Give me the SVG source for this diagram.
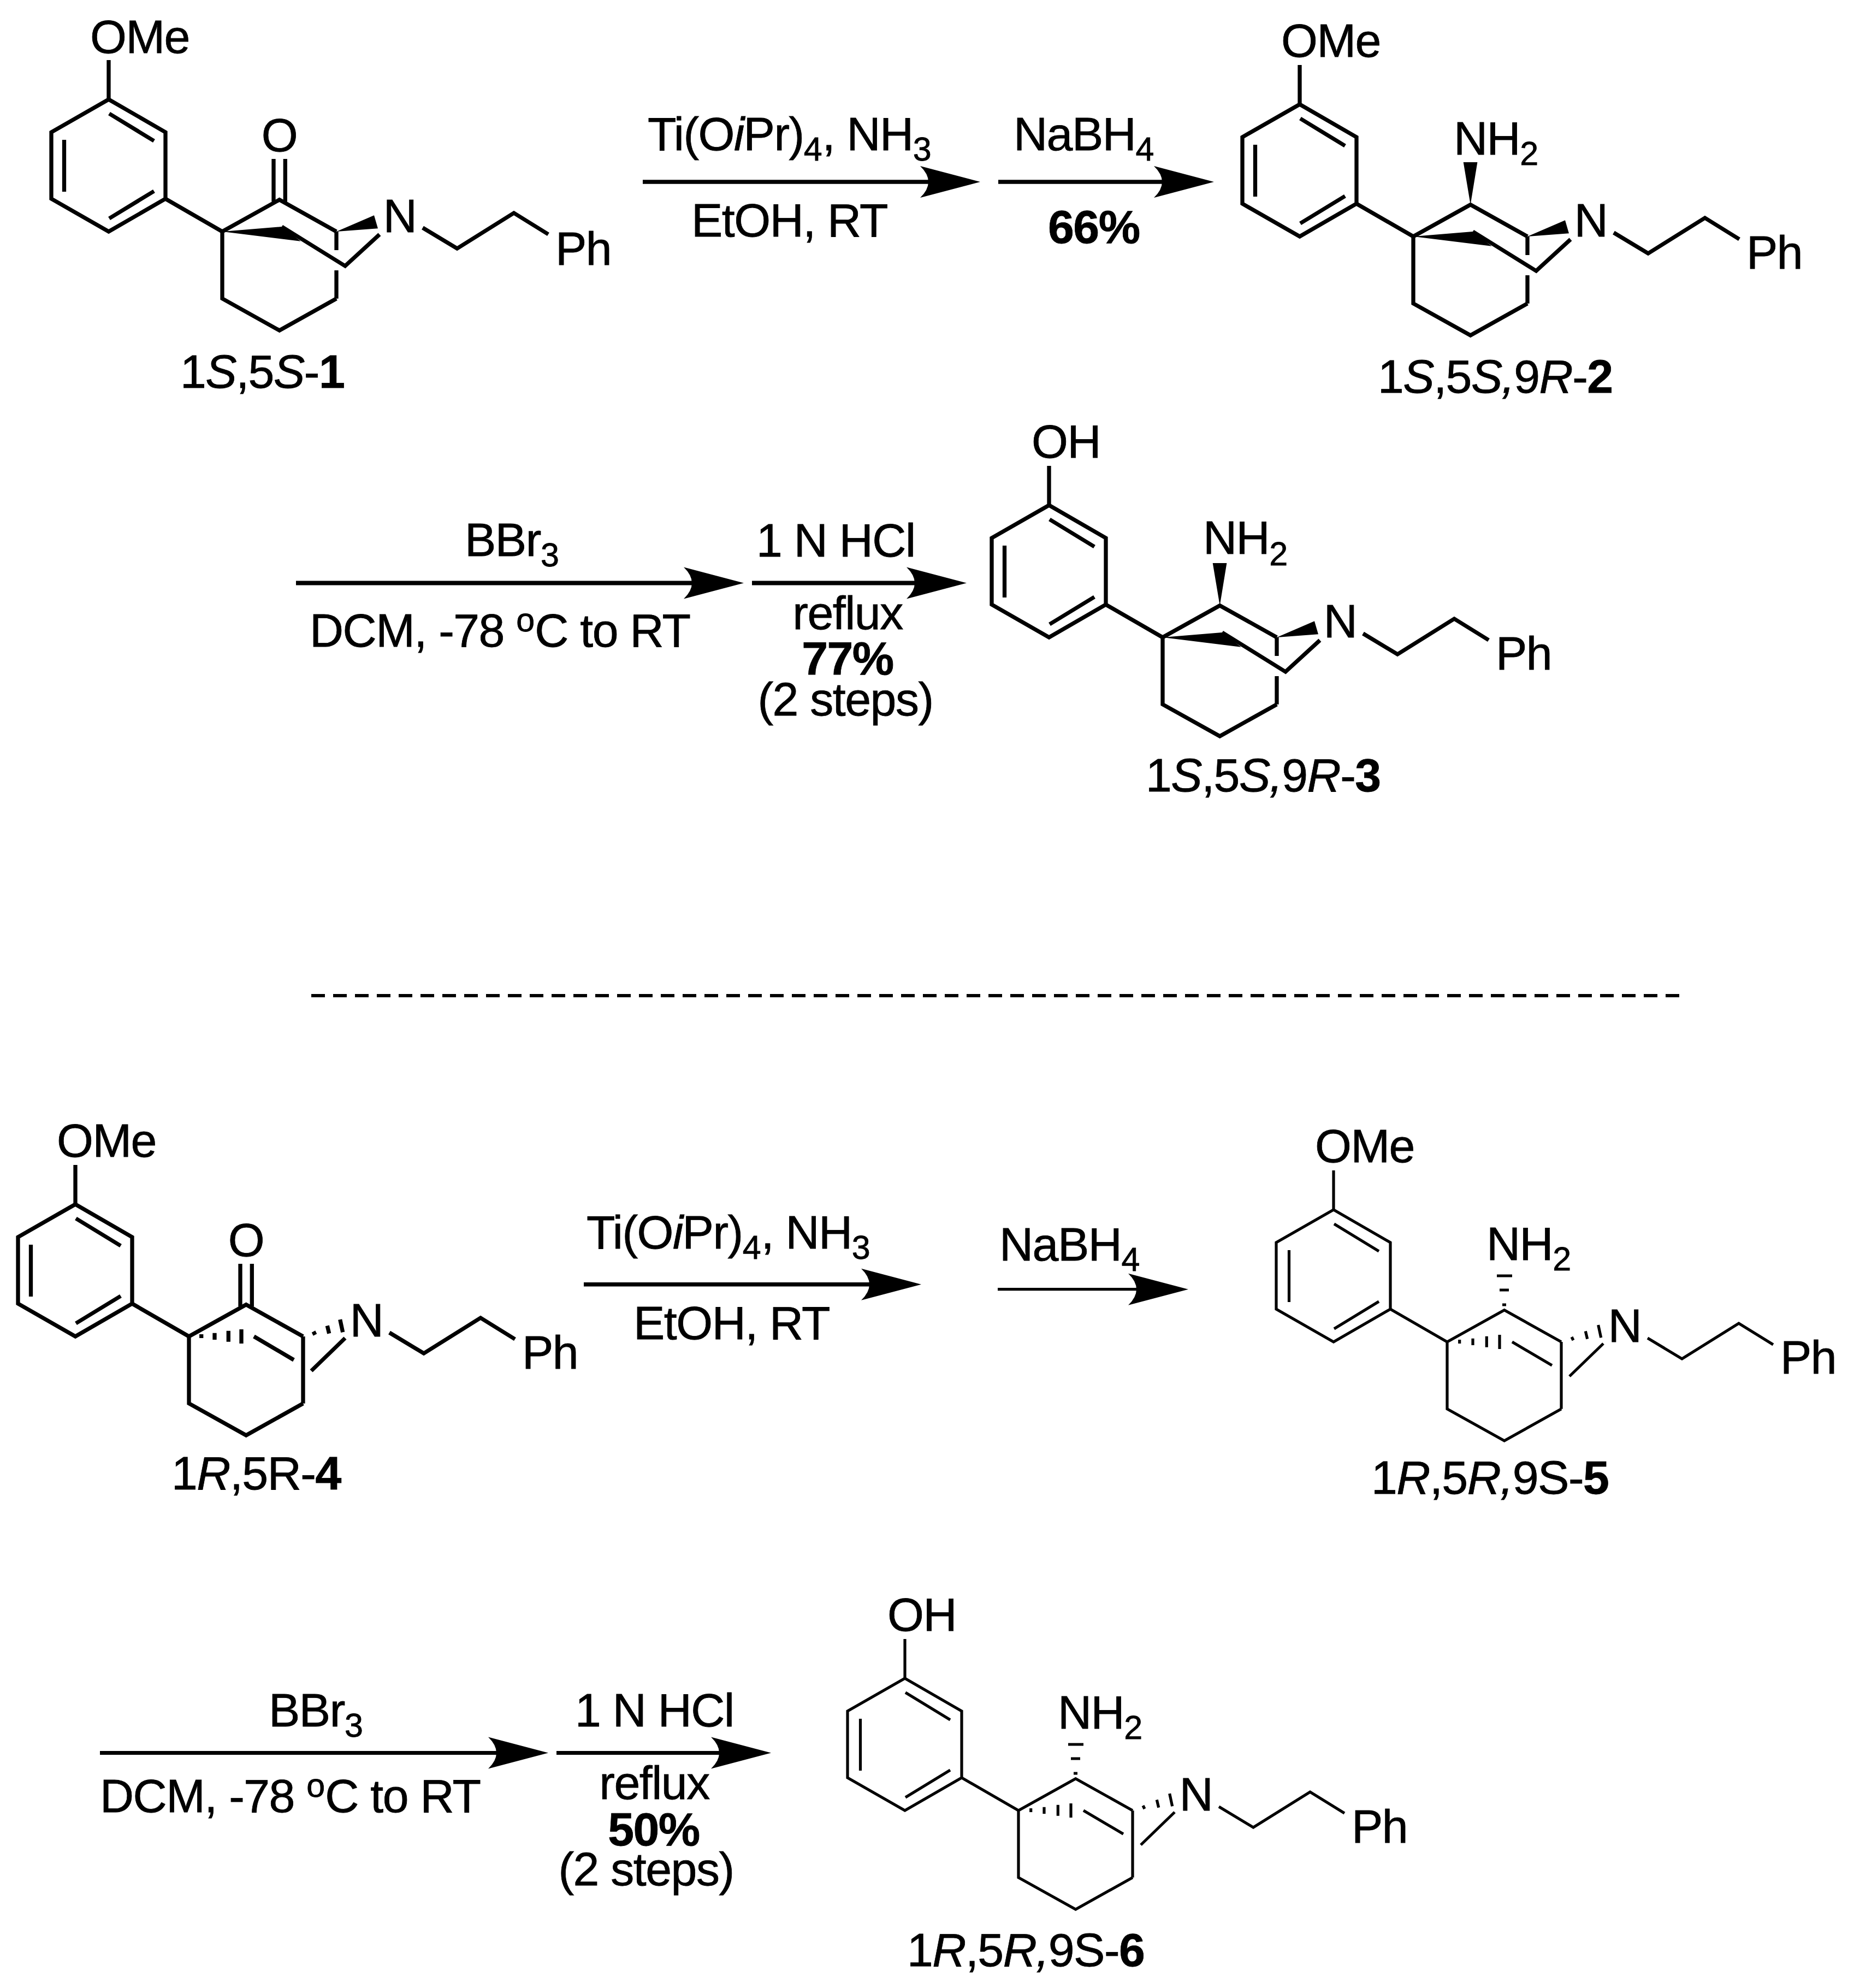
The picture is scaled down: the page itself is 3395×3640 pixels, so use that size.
<svg xmlns="http://www.w3.org/2000/svg" width="3395" height="3640" viewBox="0 0 3395 3640">
<style>
text{font-family:"Liberation Sans",Arial,sans-serif;font-size:86px;letter-spacing:-1.500px;fill:#000;stroke:#000;stroke-width:.8px}
.m{text-anchor:middle}
.s{font-size:61px;letter-spacing:0}
.i{font-style:italic}
.h{font-weight:bold}
.b{fill:none;stroke:#000;stroke-linejoin:miter;stroke-miterlimit:10}
.w{fill:#000;stroke:none}
.b7{stroke-width:7.300}
.b5{stroke-width:5.200}
.ar{fill:none;stroke:#000;marker-end:url(#ah)}
</style>
<defs>
<marker id="ah" markerUnits="userSpaceOnUse" viewBox="0 0 110 60" markerWidth="110" markerHeight="60" refX="20" refY="30" orient="auto"><path d="M110 30L0 1Q30 30 0 59Z" fill="#000"/></marker>
<g id="ring"><path d="M303 364V242L199 182L94 242V364L199 424L303 364Z"/><path d="M199 110V182M200 208L282 258M117.500 256V351M282 350L200 400M303 364L407 424"/></g>
<g id="cage"><path d="M616 424L511.700 365.700L407 424V546.700L511.700 605L616 546.700"/></g>
<path id="chain" d="M774 417L837 455L941 390L1004 429"/>
<g id="front"><path d="M616 424V458M616 495V546.700M516 415L632 487L695 429.300"/><polygon class="w" points="616,424 685,394.300 692,418.300"/><polygon class="w" points="407,424 516,415 550.700,441.700"/></g>
<g id="back"><path d="M616 424V546.700M526 424L599 467M693 427L631 487M429.700 420V427M454 417.700V430M479.300 413.700V433.700M503 411V437M635 415L638 421M660.300 404.300L663.700 418.700M683.700 393L688.700 416.300"/></g>
<path id="ketone" d="M501 291V369M522.300 291V369"/>
<polygon id="upw" class="w" points="511.700,365.700 498.700,288 524.400,288"/>
<path id="uph" d="M498 303H526M503 329H520M508 356H515"/>
</defs>

<g id="connectors">
<path class="ar b7" d="M1177 333H1705"/>
<path class="ar b7" d="M1828 333H2133"/>
<path class="ar" stroke-width="8" d="M542 1067.500H1272"/>
<path class="ar" stroke-width="8" d="M1377 1067.500H1680"/>
<path class="ar" stroke-width="7.500" d="M1069 2351.700H1597"/>
<path class="ar b5" d="M1827 2360.700H2086"/>
<path class="ar" stroke-width="7" d="M183 3209.600H914"/>
<path class="ar" stroke-width="7" d="M1019 3209.600H1322"/>
<path id="divider" fill="none" stroke="#000" stroke-width="6" stroke-dasharray="25 15" d="M570 1823H3085"/>
</g>

<g id="mol1">
<g class="b b7"><use href="#ring"/><use href="#cage"/><use href="#front"/><use href="#chain"/><use href="#ketone"/></g>
<text x="165" y="97">OMe</text><text class="m" x="511.500" y="277">O</text><text class="m" x="732" y="425">N</text><text x="1017" y="485">Ph</text>
<text x="330" y="710">1<tspan class="i">S</tspan>,5<tspan class="i">S</tspan>-<tspan class="h">1</tspan></text>
</g>

<g id="mol2" transform="translate(2181 9)">
<g class="b b7"><use href="#ring"/><use href="#cage"/><use href="#front"/><use href="#chain"/></g><use href="#upw"/>
<text x="165" y="95">OMe</text><text x="481" y="274">NH<tspan class="s" dy="19">2</tspan></text><text class="m" x="732" y="424">N</text><text x="1017" y="483">Ph</text>
<text x="342" y="710">1<tspan class="i">S</tspan>,5<tspan class="i">S,</tspan>9<tspan class="i">R</tspan>-<tspan class="h">2</tspan></text>
</g>

<g id="mol3" transform="translate(1722 743)">
<g class="b b7"><use href="#ring"/><use href="#cage"/><use href="#front"/><use href="#chain"/></g><use href="#upw"/>
<text x="167" y="95">OH</text><text x="481" y="271">NH<tspan class="s" dy="21">2</tspan></text><text class="m" x="732" y="424">N</text><text x="1017" y="483">Ph</text>
<text x="376" y="706">1<tspan class="i">S</tspan>,5<tspan class="i">S,</tspan>9<tspan class="i">R</tspan>-<tspan class="h">3</tspan></text>
</g>

<g id="mol4" transform="translate(-61 2023)">
<g class="b b7"><use href="#ring"/><use href="#cage"/><use href="#back"/><use href="#chain"/><use href="#ketone"/></g>
<text x="165" y="95">OMe</text><text class="m" x="511.500" y="277">O</text><text class="m" x="732" y="424">N</text><text x="1017" y="483">Ph</text>
<text x="375" y="704">1<tspan class="i">R</tspan>,5R-<tspan class="h">4</tspan></text>
</g>

<g id="mol5" transform="translate(2243 2033)">
<g class="b b5"><use href="#ring"/><use href="#cage"/><use href="#back"/><use href="#chain"/><use href="#uph"/></g>
<text x="165" y="95">OMe</text><text x="479" y="274">NH<tspan class="s" dy="19">2</tspan></text><text class="m" x="732" y="424">N</text><text x="1017" y="482">Ph</text>
<text x="268" y="702">1<tspan class="i">R</tspan>,5<tspan class="i">R,</tspan>9S-<tspan class="h">5</tspan></text>
</g>

<g id="mol6" transform="translate(1458 2891)">
<g class="b b5"><use href="#ring"/><use href="#cage"/><use href="#back"/><use href="#chain"/><use href="#uph"/></g>
<text x="167" y="95">OH</text><text x="479" y="274">NH<tspan class="s" dy="19">2</tspan></text><text class="m" x="732" y="424">N</text><text x="1017" y="483">Ph</text>
<text x="203" y="709">1<tspan class="i">R</tspan>,5<tspan class="i">R,</tspan>9S-<tspan class="h">6</tspan></text>
</g>

<g id="reagents">
<text x="1186" y="275">Ti(O<tspan class="i">i</tspan>Pr)<tspan class="s" dy="19">4</tspan><tspan dy="-19">, NH</tspan><tspan class="s" dy="19">3</tspan></text>
<text x="1266" y="433">EtOH, RT</text>
<text x="1856" y="275">NaBH<tspan class="s" dy="19">4</tspan></text>
<text class="h" x="1919" y="445">66%</text>
<text x="851" y="1018">BBr<tspan class="s" dy="19">3</tspan></text>
<text x="567" y="1184">DCM, -78 <tspan class="s" dy="-28">o</tspan><tspan dy="28">C to RT</tspan></text>
<text x="1385" y="1019">1 N HCl</text>
<text class="m" x="1552" y="1152">reflux</text>
<text class="m h" x="1552" y="1235">77%</text>
<text class="m" x="1548" y="1310">(2 steps)</text>
<text x="1074" y="2286">Ti(O<tspan class="i">i</tspan>Pr)<tspan class="s" dy="19">4</tspan><tspan dy="-19">, NH</tspan><tspan class="s" dy="19">3</tspan></text>
<text x="1160" y="2452">EtOH, RT</text>
<text x="1830" y="2308">NaBH<tspan class="s" dy="19">4</tspan></text>
<text x="492" y="3161">BBr<tspan class="s" dy="19">3</tspan></text>
<text x="183" y="3318">DCM, -78 <tspan class="s" dy="-28">o</tspan><tspan dy="28">C to RT</tspan></text>
<text x="1053" y="3161">1 N HCl</text>
<text class="m" x="1198" y="3294">reflux</text>
<text class="m h" x="1197" y="3379">50%</text>
<text class="m" x="1183" y="3452">(2 steps)</text>
</g>
</svg>
